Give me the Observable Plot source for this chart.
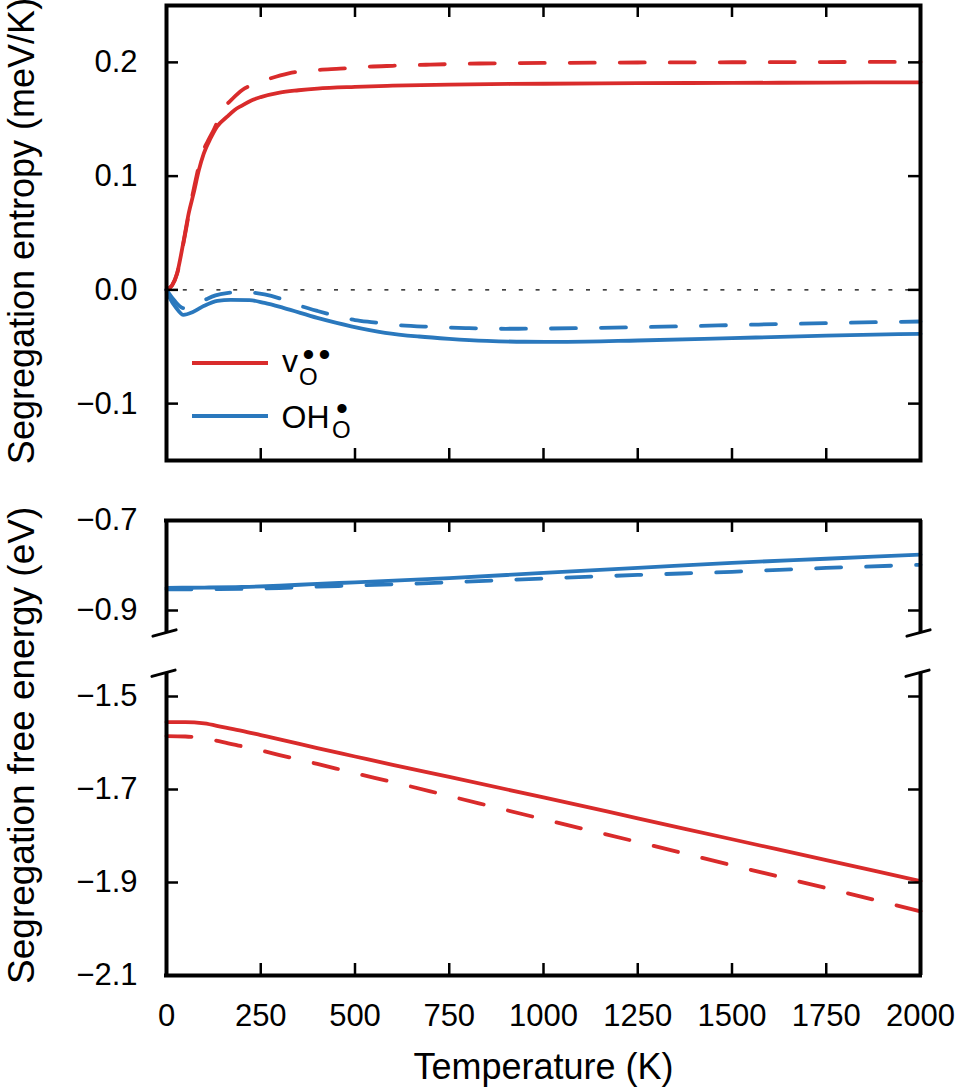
<!DOCTYPE html>
<html>
<head>
<meta charset="utf-8">
<script src="https://cdn.jsdelivr.net/npm/d3@7"></script>
<script src="https://cdn.jsdelivr.net/npm/@observablehq/plot@0.6"></script>
<style>
  html, body { margin: 0; padding: 0; background: #fff; }
  #wrap { position: relative; width: 961px; height: 1090px; overflow: hidden; background: #fff; }
  #wrap svg { position: absolute; left: 0; top: 0; }
</style>
</head>
<body>
<div id="wrap"></div>
<script>
// ---------- axes / ticks ----------
const xDomain = [0, 2000];
const xTicksAll = [0, 250, 500, 750, 1000, 1250, 1500, 1750, 2000];
const xTicksInner = [250, 500, 750, 1000, 1250, 1500, 1750];
const entropyDomain = [-0.15, 0.25];
const entropyTicks = [-0.1, 0.0, 0.1, 0.2];
const upperDomain = [-0.95, -0.7];
const upperTicks = [-0.7, -0.9];
const upperInnerTicks = [-0.9];
const lowerDomain = [-2.1, -1.45];
const lowerTicks = [-1.5, -1.7, -1.9, -2.1];
const lowerInnerTicks = [-1.5, -1.7, -1.9];

// ---------- segregation entropy (meV/K) ----------
const tEntVoSolid = [0, 15, 28, 46, 59, 72, 86, 99, 117, 134, 160, 180, 200, 225, 250, 300, 350, 400, 500, 600, 750, 1000, 1250, 1500, 1750, 2000];
const sVoSolid    = [0, 0.004, 0.0146, 0.044, 0.0675, 0.085, 0.1055, 0.12, 0.1333, 0.1435, 0.152, 0.158, 0.162, 0.1665, 0.1695, 0.1735, 0.1755, 0.177, 0.1785, 0.1795, 0.1805, 0.1812, 0.1817, 0.182, 0.1822, 0.1825];

const tEntVoDashed = [0, 15, 28, 46, 60, 75, 95, 110, 125, 152, 175, 201, 230, 263, 324, 400, 460, 530, 600, 700, 830, 1000, 1250, 1500, 1750, 2000];
const sVoDashed    = [0, 0.004, 0.014, 0.043, 0.068, 0.093, 0.12, 0.131, 0.1405, 0.1596, 0.168, 0.1757, 0.1805, 0.1845, 0.1904, 0.1933, 0.1945, 0.1961, 0.197, 0.198, 0.199, 0.1995, 0.1999, 0.2001, 0.2003, 0.2004];

const tEntOhSolid = [0, 10, 25, 45, 70, 100, 135, 170, 220, 260, 310, 400, 490, 580, 670, 750, 850, 950, 1050, 1250, 1500, 1750, 2000];
const sOhSolid    = [0, -0.008, -0.0155, -0.022, -0.0195, -0.014, -0.0097, -0.0088, -0.009, -0.0115, -0.0158, -0.0246, -0.032, -0.0377, -0.041, -0.043, -0.0448, -0.0456, -0.0457, -0.0445, -0.0424, -0.0403, -0.0386];

const tEntOhDashed = [0, 20, 45, 70, 90, 110, 130, 160, 200, 230, 260, 300, 350, 400, 450, 500, 550, 600, 700, 800, 900, 1000, 1250, 1500, 1750, 2000];
const sOhDashed    = [0, -0.009, -0.016, -0.0145, -0.011, -0.0075, -0.0048, -0.0028, -0.002, -0.0025, -0.004, -0.0075, -0.0135, -0.0185, -0.023, -0.0265, -0.0285, -0.0305, -0.0325, -0.0336, -0.0342, -0.034, -0.0328, -0.031, -0.0292, -0.0278];

// ---------- segregation free energy (eV) ----------
const tFreeOh = [0, 100, 200, 300, 400, 500, 750, 1000, 1250, 1500, 1750, 2000];
const gOhSolid  = [-0.8496, -0.849, -0.8478, -0.845, -0.8408, -0.8375, -0.828, -0.8165, -0.8055, -0.794, -0.785, -0.776];
const gOhDashed = [-0.853, -0.8527, -0.852, -0.85, -0.847, -0.8445, -0.8375, -0.829, -0.821, -0.814, -0.8055, -0.7985];

const tFreeVo = [0, 50, 100, 150, 200, 250, 300, 400, 500, 600, 750, 1000, 1250, 1500, 1750, 2000];
const gVoSolid  = [-1.555, -1.555, -1.558, -1.566, -1.574, -1.583, -1.592, -1.611, -1.629, -1.647, -1.673, -1.717, -1.762, -1.807, -1.852, -1.897];
const gVoDashed = [-1.585, -1.586, -1.590, -1.598, -1.607, -1.616, -1.626, -1.645, -1.665, -1.684, -1.714, -1.764, -1.813, -1.863, -1.912, -1.962];

// ---------- text ----------
const xLabel = "Temperature (K)";
const yLabelEntropy = "Segregation entropy (meV/K)";
const yLabelFree = "Segregation free energy (eV)";

// ---------- styling ----------
const RED = "#d92b2b";
const BLUE = "#2a78bd";
const FONT = '"Liberation Sans", Arial, Helvetica, sans-serif';
const W = 961, H = 1090, ML = 166, MR = 41;
const TICK = 12;
const LW = 3.8;
const DASH = "25,25";
const FRAME_W = 4;
const TICK_W = 2.5;
const fmtY = d3.format(".1f");
const fmtX = d3.format("d");
const pts = (t, v) => t.map((T, i) => ({T, v: v[i]}));

const noArrow = {draw(context, l) { context.moveTo(0, 0); context.lineTo(0, -l); }};

function panel(top, bottom, yDomain, marks, showX) {
  return Plot.plot({
    width: W, height: H,
    marginLeft: ML, marginRight: MR, marginTop: top, marginBottom: H - bottom,
    x: showX ? {domain: xDomain} : {domain: xDomain, axis: null},
    y: {domain: yDomain},
    style: {background: "transparent", overflow: "visible", fontFamily: FONT, color: "black"},
    marks
  });
}

function lineMarks(solid, dashed, color) {
  return [
    Plot.line(dashed, {x: "T", y: "v", stroke: color, strokeWidth: LW, strokeDasharray: DASH, curve: "monotone-x"}),
    Plot.line(solid, {x: "T", y: "v", stroke: color, strokeWidth: LW, curve: "monotone-x"})
  ];
}

// ---- top panel: entropy ----
const topT = 5, topB = 460, topH = topB - topT, plotW = W - ML - MR;
const topSvg = panel(topT, topB, entropyDomain, [
  Plot.ruleY([0], {stroke: "black", strokeWidth: 1.2, strokeDasharray: "4,12.8"}),
  ...lineMarks(pts(tEntVoSolid, sVoSolid), pts(tEntVoDashed, sVoDashed), RED),
  ...lineMarks(pts(tEntOhSolid, sOhSolid), pts(tEntOhDashed, sOhDashed), BLUE),
  Plot.tickX(xTicksInner, {x: d => d, insetTop: topH - TICK, stroke: "black", strokeWidth: TICK_W}),
  Plot.tickX(xTicksInner, {x: d => d, insetBottom: topH - TICK, stroke: "black", strokeWidth: TICK_W}),
  Plot.tickY(entropyTicks, {y: d => d, insetRight: plotW - TICK, stroke: "black", strokeWidth: TICK_W}),
  Plot.tickY(entropyTicks, {y: d => d, insetLeft: plotW - TICK, stroke: "black", strokeWidth: TICK_W}),
  Plot.frame({stroke: "black", strokeWidth: FRAME_W}),
  Plot.axisY(entropyTicks, {tickSize: 0, tickPadding: 29, tickFormat: fmtY, fontSize: 31, label: null}),
  Plot.text([yLabelEntropy], {text: d => d, frameAnchor: "left", rotate: -90, dx: -133, dy: -2, textAnchor: "middle", lineAnchor: "bottom", fontSize: 36})
]);

// ---- middle panel: free energy (upper part) ----
const midT = 520, midB = 632.5, midH = midB - midT;
const midBreaks = xDomain.map(x => ({x, y: upperDomain[0]}));
const midSvg = panel(midT, midB, upperDomain, [
  ...lineMarks(pts(tFreeOh, gOhSolid), pts(tFreeOh, gOhDashed), BLUE),
  Plot.tickX(xTicksInner, {x: d => d, insetBottom: midH - TICK, stroke: "black", strokeWidth: TICK_W}),
  Plot.tickY(upperInnerTicks, {y: d => d, insetRight: plotW - TICK, stroke: "black", strokeWidth: TICK_W}),
  Plot.tickY(upperInnerTicks, {y: d => d, insetLeft: plotW - TICK, stroke: "black", strokeWidth: TICK_W}),
  Plot.ruleY([upperDomain[1]], {stroke: "black", strokeWidth: FRAME_W, strokeLinecap: "square"}),
  Plot.ruleX(xDomain, {x: d => d, stroke: "black", strokeWidth: FRAME_W}),
  Plot.vector(midBreaks, {x: "x", y: "y", length: 24, rotate: 75, anchor: "middle", shape: noArrow, stroke: "black", strokeWidth: 3, dx: -2}),
  Plot.axisY(upperTicks, {tickSize: 0, tickPadding: 29, tickFormat: fmtY, fontSize: 31, label: null})
]);

// ---- bottom panel: free energy (lower part) ----
const botT = 672.75, botB = 975, botH = botB - botT;
const botBreaks = xDomain.map(x => ({x, y: lowerDomain[1]}));
const botSvg = panel(botT, botB, lowerDomain, [
  ...lineMarks(pts(tFreeVo, gVoSolid), pts(tFreeVo, gVoDashed), RED),
  Plot.tickX(xTicksInner, {x: d => d, insetTop: botH - TICK, stroke: "black", strokeWidth: TICK_W}),
  Plot.tickY(lowerInnerTicks, {y: d => d, insetRight: plotW - TICK, stroke: "black", strokeWidth: TICK_W}),
  Plot.tickY(lowerInnerTicks, {y: d => d, insetLeft: plotW - TICK, stroke: "black", strokeWidth: TICK_W}),
  Plot.ruleY([lowerDomain[0]], {stroke: "black", strokeWidth: FRAME_W, strokeLinecap: "square"}),
  Plot.ruleX(xDomain, {x: d => d, stroke: "black", strokeWidth: FRAME_W}),
  Plot.vector(botBreaks, {x: "x", y: "y", length: 24, rotate: 75, anchor: "middle", shape: noArrow, stroke: "black", strokeWidth: 3, dx: -3}),
  Plot.axisY(lowerTicks, {tickSize: 0, tickPadding: 29, tickFormat: fmtY, fontSize: 31, label: null}),
  Plot.axisX(xTicksAll, {anchor: "bottom", tickSize: 0, tickPadding: 28, tickFormat: fmtX, fontSize: 31, label: null}),
  Plot.text([xLabel], {text: d => d, frameAnchor: "bottom", dy: 103, textAnchor: "middle", lineAnchor: "bottom", fontSize: 36}),
  Plot.text([yLabelFree], {text: d => d, frameAnchor: "left", rotate: -90, dx: -133, dy: -79, textAnchor: "middle", lineAnchor: "bottom", fontSize: 37})
], true);

const wrap = document.getElementById("wrap");
wrap.append(botSvg, midSvg, topSvg);

// ---- legend (inside the top panel) ----
const lg = d3.select(topSvg).append("g").attr("font-family", FONT).attr("fill", "black").attr("text-anchor", "start");
lg.append("line").attr("x1", 192).attr("x2", 268).attr("y1", 363).attr("y2", 363)
  .attr("stroke", RED).attr("stroke-width", LW);
lg.append("line").attr("x1", 192).attr("x2", 268).attr("y1", 416).attr("y2", 416)
  .attr("stroke", BLUE).attr("stroke-width", LW);
lg.append("text").attr("x", 282).attr("y", 372).attr("font-size", 32).text("v");
lg.append("text").attr("x", 299).attr("y", 385).attr("font-size", 24).text("O");
lg.append("text").attr("x", 302.5).attr("y", 366).attr("font-size", 34).attr("letter-spacing", 4).text("••");
lg.append("text").attr("x", 281.5).attr("y", 428).attr("font-size", 32).text("OH");
lg.append("text").attr("x", 332).attr("y", 438).attr("font-size", 24).text("O");
lg.append("text").attr("x", 336).attr("y", 420).attr("font-size", 34).text("•");
</script>
</body>
</html>
